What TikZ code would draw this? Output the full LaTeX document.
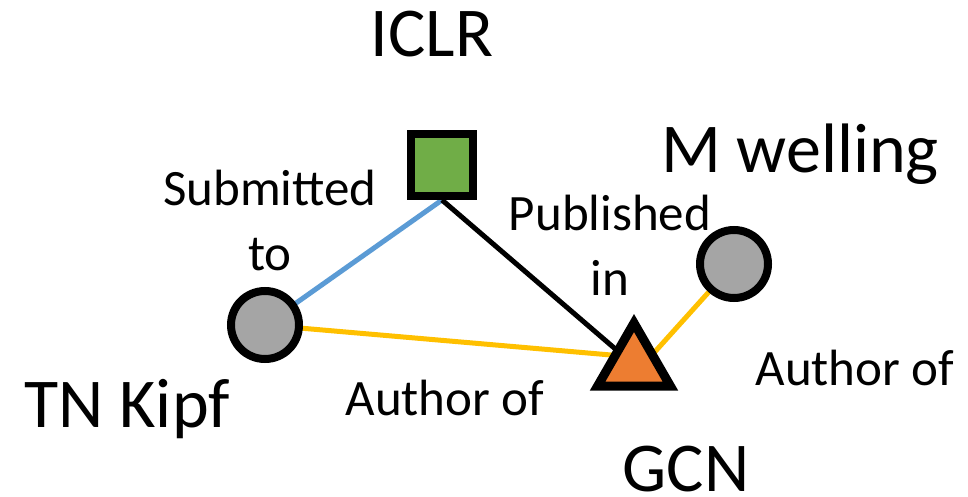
\documentclass[tikz,border=0pt]{standalone}
\usepackage{fontspec}
\setmainfont{Carlito}
\usetikzlibrary{shapes.geometric,shadows,backgrounds}
\definecolor{venuegreen}{RGB}{112,173,71}
\definecolor{paperorange}{RGB}{237,125,49}
\definecolor{authorgray}{RGB}{165,165,165}
\definecolor{submitblue}{RGB}{91,155,213}
\definecolor{authoryellow}{RGB}{255,192,0}
\tikzset{
    shade/.style = {drop shadow = {opacity = 0.25, shadow xshift = 2pt, shadow yshift = -3pt}},
    venue/.style = {draw, line width = 8pt, fill = venuegreen, rectangle, minimum size = 62pt, inner sep = 0pt, shade},
    author/.style = {draw, line width = 8pt, fill = authorgray, circle, minimum size = 68pt, inner sep = 0pt, shade},
    paper/.style = {draw, line width = 9pt, fill = paperorange, regular polygon, regular polygon sides = 3,
                    minimum size = 84pt, inner sep = 0pt, line join = miter, shade},
    bigname/.style = {font = \fontsize{70}{84}\selectfont, anchor = base, inner sep = 0pt},
    relname/.style = {font = \fontsize{51}{65}\selectfont, anchor = base, inner sep = 0pt, align = center},
    rel/.style = {line width = 5pt}
}
\begin{document}
\begin{tikzpicture}[x = 1pt, y = -1pt]
    \useasboundingbox (0, 0) rectangle (968, 497);
    % entities
    \node [venue] (iclr) at (442, 165) {};
    \node [author] (kipf) at (265, 325) {};
    \node [author] (welling) at (734, 264) {};
    \node [paper] (gcn) at (634, 365) {};
    % names
    \node [bigname] (iclrname) at (432, 57) {ICLR};
    \node [bigname] (wellingname) at (800, 173) {M welling};
    \node [bigname] (kipfname) at (127, 427) {TN Kipf};
    \node [bigname] (gcnname) at (686, 491) {GCN};
    % relations (base is the last line)
    \node [relname] (submitted) at (270, 270) {Submitted\\to};
    \node [relname] (published) at (610, 295) {Published\\in};
    \node [relname] (authorkipf) at (445, 415) {Author of};
    \node [relname] (authorwelling) at (855, 385) {Author of};
    \begin{pgfonlayer}{background}
        \draw [rel, submitblue] (kipf.center) -- (iclr.south);
        \draw [rel, black] (iclr.south) -- (gcn.center);
        \draw [rel, authoryellow] (kipf.center) -- ([yshift = 8pt] gcn.center);
        \draw [rel, authoryellow] ([yshift = -10pt] gcn.center) -- (welling.center);
    \end{pgfonlayer}
\end{tikzpicture}
\end{document}
